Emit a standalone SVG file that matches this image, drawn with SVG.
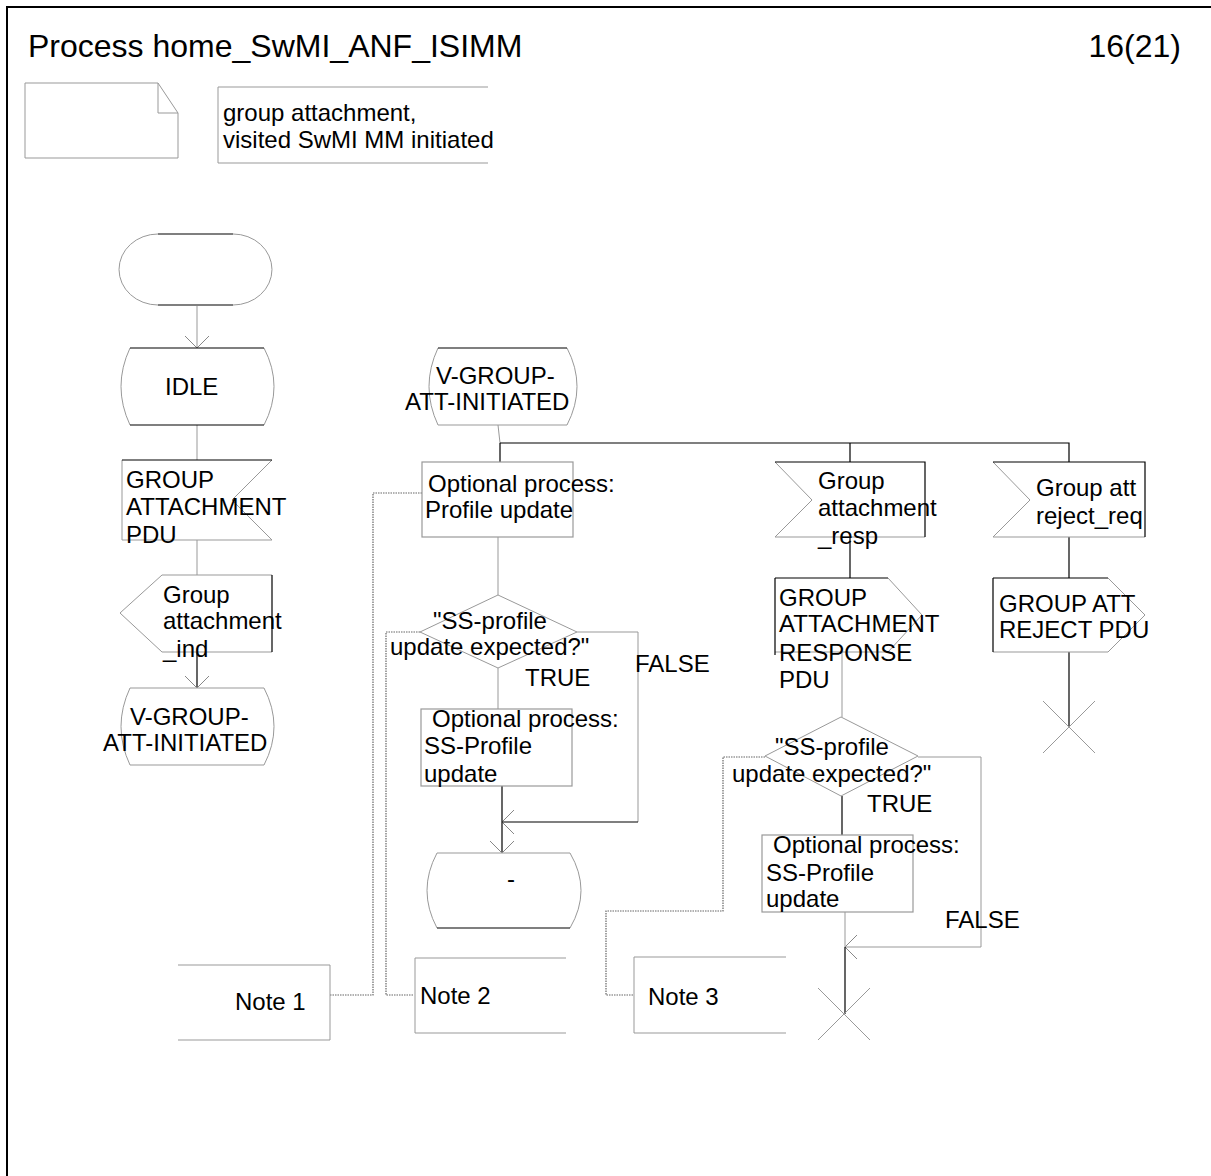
<svg xmlns="http://www.w3.org/2000/svg" width="1211" height="1176" viewBox="0 0 1211 1176">
<defs>
<style>
text{font-family:"Liberation Sans",Arial,sans-serif;font-size:24px;fill:#000}
.title{font-size:32px}
.blk{fill:none;stroke:#000;stroke-width:1.2}
.gry{fill:none;stroke:#999;stroke-width:1}
.box{fill:none;stroke:#999;stroke-width:1.2}
.cn{fill:none;stroke:#999;stroke-width:1}
.cb{fill:none;stroke:#000;stroke-width:1.2}
.cm{fill:none;stroke:#666;stroke-width:1.2;stroke-dasharray:1.5 1}
.frame{fill:none;stroke:#000;stroke-width:2}
</style>
<marker id="arr" viewBox="0 0 12 24" refX="12" refY="12" markerWidth="12" markerHeight="24" markerUnits="userSpaceOnUse" orient="auto">
<path d="M0,0 L12,12 L0,24" fill="none" stroke="#888" stroke-width="1"/>
</marker>
</defs>
<rect width="1211" height="1176" fill="#fff"/>
<path class="frame" d="M7,1176 V7 H1211"/>
<g id="header">
<text class="title" x="28" y="57">Process home_SwMI_ANF_ISIMM</text>
<text class="title" x="1181" y="57" text-anchor="end">16(21)</text>
</g>
<g id="page-symbol">
<path class="gry" d="M25,83 H158 L178,113 V158 H25 Z M158,83 V113 H178"/>
</g>
<g id="text-comment">
<path class="gry" d="M488,87 H218 V163 H488"/>
<text x="223" y="121">group attachment,</text>
<text x="223" y="148">visited SwMI MM initiated</text>
</g>
<g id="connectors">
<path class="cn" d="M197,306 V348" marker-end="url(#arr)"/>
<path class="cn" d="M197,425 V460"/>
<path class="cn" d="M197,540 V575"/>
<path class="cb" d="M197,652 V688" marker-end="url(#arr)"/>
<path class="cn" d="M498,425 L500,443"/>
<path class="cb" d="M500,443 V462 M500,443 H1069 V462 M850,443 V462"/>
<path class="cn" d="M498,537 V595"/>
<path class="cn" d="M498,668 V709"/>
<path class="cn" d="M577,632 H638 V822"/>
<path class="cb" d="M638,822 H502" marker-end="url(#arr)"/>
<path class="cb" d="M502,786 V853" marker-end="url(#arr)"/>
<path class="cb" d="M850,537 V578"/>
<path class="cn" d="M842,652 V717"/>
<path class="cb" d="M842,796 V835"/>
<path class="cn" d="M918,757 H981 V947 H845" marker-end="url(#arr)"/>
<path class="cn" d="M845,912 V947"/>
<path class="cb" d="M845,947 V1014"/>
<path class="cb" d="M1069,537 V578"/>
<path class="cb" d="M1069,652 V727"/>
<path class="cm" d="M422,493 H373 V995 H330"/>
<path class="cm" d="M420,632 H386 V995 H414"/>
<path class="cm" d="M765,757 H723 V911 H606 V995 H634"/>
</g>
<g id="start">
<path class="gry" d="M158,234 A39,35.5 0 0 0 158,305 M233,234 A39,35.5 0 0 1 233,305"/>
<path class="blk" d="M158,234 H233 M158,305 H233"/>
</g>
<g id="state-idle">
<path class="gry" d="M130,348 Q112,386.5 130,425 M264,348 Q284,386.5 264,425"/>
<path class="blk" d="M130,348 H264 M130,425 H264"/>
<text x="165" y="395">IDLE</text>
</g>
<g id="input-group-attachment-pdu">
<path class="gry" d="M122,460 V540 H272 M272,460 L232,500 L272,540"/>
<path class="blk" d="M122,460 H272"/>
<text x="126" y="488">GROUP</text>
<text x="126" y="515">ATTACHMENT</text>
<text x="126" y="543">PDU</text>
</g>
<g id="output-group-attachment-ind">
<path class="gry" d="M162,575 L120,613 L162,652 M162,575 H272 M162,652 H272"/>
<path class="blk" d="M272,575 V652"/>
<text x="163" y="603">Group</text>
<text x="163" y="629">attachment</text>
<text x="163" y="657">_ind</text>
</g>
<g id="state-v-group-left">
<path class="gry" d="M130,688 Q112,726.5 130,765 M264,688 Q284,726.5 264,765 M130,688 H264 M130,765 H264"/>
<text x="130" y="725">V-GROUP-</text>
<text x="103" y="751">ATT-INITIATED</text>
</g>
<g id="state-v-group-mid">
<path class="gry" d="M438,348 Q420,386.5 438,425 M567,348 Q587,386.5 567,425"/>
<path class="blk" d="M438,348 H567"/>
<path class="gry" d="M438,425 H567"/>
<text x="436" y="384">V-GROUP-</text>
<text x="405" y="410">ATT-INITIATED</text>
</g>
<g id="task-profile-update">
<rect class="box" x="422" y="462" width="151" height="75"/>
<text x="428" y="492">Optional process:</text>
<text x="425" y="518">Profile update</text>
</g>
<g id="decision-1">
<path class="gry" d="M498,595 L577,632 L498,668 L420,632 Z"/>
<text x="433" y="629">"SS-profile</text>
<text x="390" y="655">update expected?"</text>
<text x="525" y="686">TRUE</text>
<text x="635" y="672">FALSE</text>
</g>
<g id="task-ss-profile-1">
<rect class="box" x="421" y="709" width="151" height="77"/>
<text x="432" y="727">Optional process:</text>
<text x="424" y="754">SS-Profile</text>
<text x="424" y="782">update</text>
</g>
<g id="state-dash">
<path class="gry" d="M437,853 Q417,890.5 437,928 M570,853 Q592,890.5 570,928 M437,853 H570"/>
<path class="blk" d="M437,928 H570"/>
<text x="507" y="887">-</text>
</g>
<g id="input-group-attachment-resp">
<path class="gry" d="M775,462 L812,500 L775,537 H925"/>
<path class="blk" d="M775,462 H925 V537"/>
<text x="818" y="489">Group</text>
<text x="818" y="516">attachment</text>
<text x="818" y="544">_resp</text>
</g>
<g id="output-group-attachment-response-pdu">
<path class="gry" d="M888,578 L922,615 L888,652 H775"/>
<path class="blk" d="M775,578 H888 M775,578 V655"/>
<text x="779" y="606">GROUP</text>
<text x="779" y="632">ATTACHMENT</text>
<text x="779" y="661">RESPONSE</text>
<text x="779" y="688">PDU</text>
</g>
<g id="decision-2">
<path class="gry" d="M841,717 L918,756 L841,796 L765,756 Z"/>
<text x="775" y="755">"SS-profile</text>
<text x="732" y="782">update expected?"</text>
<text x="867" y="812">TRUE</text>
<text x="945" y="928">FALSE</text>
</g>
<g id="task-ss-profile-2">
<rect class="box" x="762" y="835" width="151" height="77"/>
<text x="773" y="853">Optional process:</text>
<text x="766" y="881">SS-Profile</text>
<text x="766" y="907">update</text>
</g>
<g id="stop-1">
<path class="gry" d="M818,988 L870,1040 M870,988 L818,1040"/>
</g>
<g id="input-group-att-reject-req">
<path class="gry" d="M993,462 L1030,500 L993,537 H1145"/>
<path class="blk" d="M993,462 H1145 V537"/>
<text x="1036" y="496">Group att</text>
<text x="1036" y="524">reject_req</text>
</g>
<g id="output-group-att-reject-pdu">
<path class="gry" d="M1108,578 L1145,615 L1108,652 H993"/>
<path class="blk" d="M993,578 H1108 M993,578 V652"/>
<text x="999" y="612">GROUP ATT</text>
<text x="999" y="638">REJECT PDU</text>
</g>
<g id="stop-2">
<path class="gry" d="M1043,701 L1095,753 M1095,701 L1043,753"/>
</g>
<g id="note-1">
<path class="gry" d="M178,965 H330 V1040 H178"/>
<text x="235" y="1010">Note 1</text>
</g>
<g id="note-2">
<path class="gry" d="M566,958 H415 V1033 H566"/>
<text x="420" y="1004">Note 2</text>
</g>
<g id="note-3">
<path class="gry" d="M786,957 H634 V1033 H786"/>
<text x="648" y="1005">Note 3</text>
</g>
</svg>
